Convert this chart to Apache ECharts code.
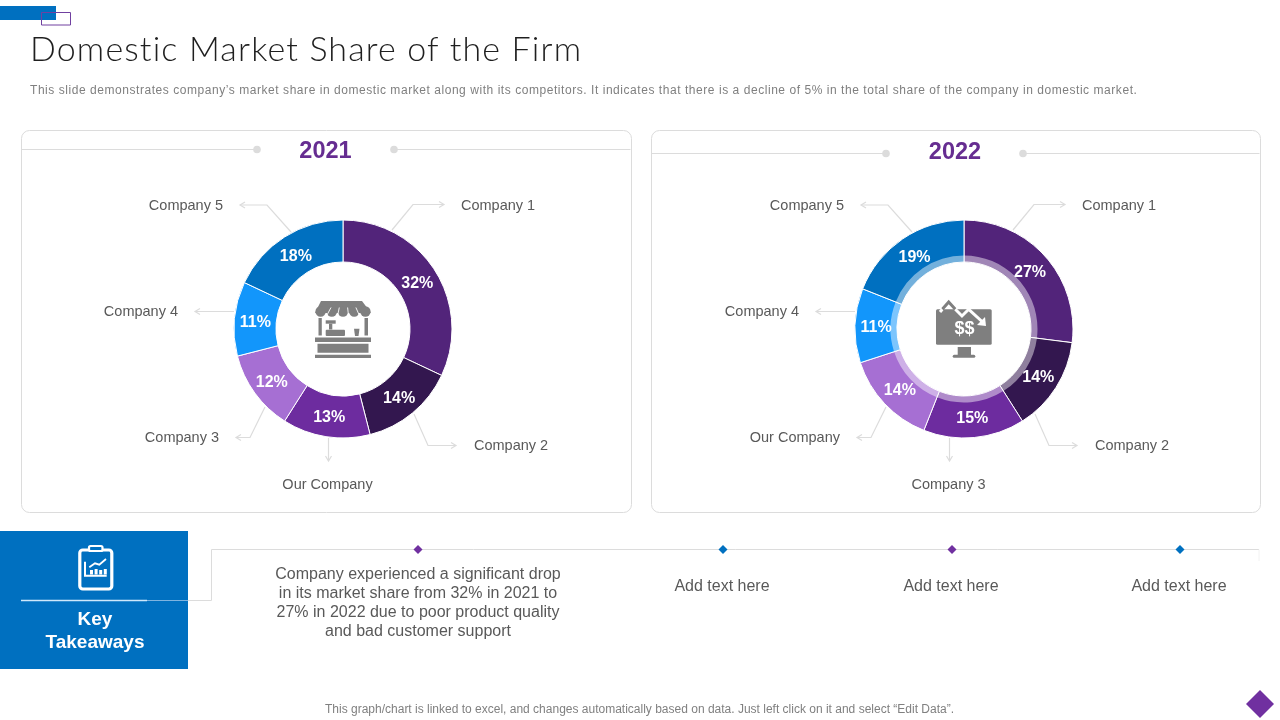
<!DOCTYPE html>
<html>
<head>
<meta charset="utf-8">
<title>Domestic Market Share of the Firm</title>
<style type="text/css">
	html, body{
		margin: 0;
		background: #fff;
		overflow: hidden;
	}
	#chart_box{
		position: absolute;
		left: 0;
		top: 0;
		width: 1280px;
		height: 720px;
	}
	.slide_title{
		position: absolute;
		left: 30px;
		top: 27px;
		font: 300 34px Lato, sans-serif;
		letter-spacing: 1.15px;
		color: #1f1f1f;
		white-space: nowrap;
	}
	.slide_sub{
		position: absolute;
		left: 30px;
		top: 83px;
		font: 12px "Liberation Sans", sans-serif;
		letter-spacing: .55px;
		color: #7f7f7f;
		white-space: nowrap;
	}
</style>
<script type="text/javascript" src="https://cdn.jsdelivr.net/npm/echarts@6/dist/echarts.min.js"></script>
</head>
<body>
<div id="chart_box"></div>
<div class="slide_title">Domestic Market Share of the Firm</div>
<div class="slide_sub">This slide demonstrates company’s market share in domestic market along with its competitors. It indicates that there is a decline of 5% in the total share of the company in domestic market.</div>

<script type="text/javascript">
var names_2021 = ['Company 1', 'Company 2', 'Our Company', 'Company 3', 'Company 4', 'Company 5'];
var values_2021 = [32, 14, 13, 12, 11, 18];
var names_2022 = ['Company 1', 'Company 2', 'Company 3', 'Our Company', 'Company 4', 'Company 5'];
var values_2022 = [27, 14, 15, 14, 11, 19];
var slice_colors = ['#52247a', '#33174f', '#6d2c9f', '#a66fd3', '#1296fb', '#0070c0'];

var takeaway_texts = [
	'Company experienced a significant drop\nin its market share from 32% in 2021 to\n27% in 2022 due to poor product quality\nand bad customer support',
	'Add text here',
	'Add text here',
	'Add text here'
];

var GREY_LINE = '#dcdcdc';
var FONT = '"Liberation Sans", Arial, sans-serif';
var CY = 329;
var R_INNER = 67;
var R_OUTER = 109;
var OFFSET_2022 = 621;

// where each slice's name sits, same slots in both donuts
var name_slots = [
	{x: 461, y: 206, align: 'left'},
	{x: 474, y: 446, align: 'left'},
	{x: 327.5, y: 485, align: 'center'},
	{x: 219, y: 438, align: 'right'},
	{x: 178, y: 312, align: 'right'},
	{x: 223, y: 206, align: 'right'}
];

var leader_lines = [
	[[392, 230], [413, 204.5], [444, 204.5]],
	[[414, 414], [428, 445.5], [456, 445.5]],
	[[328.5, 438], [328.5, 461]],
	[[265, 407], [250, 437.5], [236, 437.5]],
	[[234, 311.5], [195, 311.5]],
	[[291, 232], [267, 205], [240, 205]]
];

function toData(names, values) {
	return names.map(function(name, i) {
		return {name: name, value: values[i], itemStyle: {color: slice_colors[i]}};
	});
}

function donutSeries(names, values, cx, dx, withBand) {
	var total = values.reduce(function(a, b) { return a + b; }, 0);
	var list = [{
		type: 'pie',
		center: [cx, CY],
		radius: [R_INNER, R_OUTER],
		startAngle: 90,
		silent: true,
		avoidLabelOverlap: false,
		itemStyle: {borderColor: '#fff', borderWidth: 1},
		label: {
			position: 'inside',
			formatter: '{c}%',
			color: '#fff',
			fontFamily: FONT,
			fontWeight: 'bold',
			fontSize: 16
		},
		labelLine: {show: false},
		labelLayout: function(params) {
			// centre of the ring, on the slice's middle angle
			var before = values.slice(0, params.dataIndex).reduce(function(a, b) { return a + b; }, 0);
			var angle = (before + values[params.dataIndex] / 2) / total * Math.PI * 2;
			var r = (R_INNER + R_OUTER) / 2;
			return {
				x: cx + r * Math.sin(angle),
				y: CY - r * Math.cos(angle) + 1.5,
				align: 'center',
				verticalAlign: 'middle'
			};
		},
		data: toData(names, values)
	}, {
		// names only, the slices themselves stay invisible
		type: 'pie',
		center: [cx, CY],
		radius: [R_INNER, R_OUTER],
		startAngle: 90,
		silent: true,
		avoidLabelOverlap: false,
		itemStyle: {color: 'rgba(0,0,0,0)'},
		label: {
			position: 'outside',
			formatter: '{b}',
			color: '#595959',
			fontFamily: FONT,
			fontSize: 14.5
		},
		labelLine: {show: false},
		labelLayout: function(params) {
			var slot = name_slots[params.dataIndex];
			return {x: slot.x + dx, y: slot.y, align: slot.align, verticalAlign: 'middle'};
		},
		data: names.map(function(name, i) {
			return {name: name, value: values[i], itemStyle: {color: 'rgba(0,0,0,0)'}};
		})
	}];
	if (withBand) {
		list.push({
			type: 'pie',
			center: [cx, CY],
			radius: [R_INNER, 73.5],
			startAngle: 90,
			silent: true,
			z: 3,
			itemStyle: {borderWidth: 0},
			label: {show: false},
			labelLine: {show: false},
			data: names.map(function(name, i) {
				return {name: name, value: values[i], itemStyle: {color: 'rgba(255,255,255,.45)'}};
			})
		});
	}
	return list;
}

function line(points, color, width) {
	return {type: 'polyline', shape: {points: points}, style: {stroke: color, fill: null, lineWidth: width}};
}

function box(x1, y1, x2, y2, color, r) {
	return {type: 'rect', shape: {x: x1, y: y1, width: x2 - x1, height: y2 - y1, r: r || 0}, style: {fill: color}};
}

function diamond(cx, cy, size, color) {
	return {type: 'polygon', shape: {points: [[cx, cy - size], [cx + size, cy], [cx, cy + size], [cx - size, cy]]}, style: {fill: color}};
}

function text(str, x, y, size, color, weight, lineHeight) {
	return {
		type: 'text',
		x: x,
		y: y,
		style: {
			text: str,
			fill: color,
			font: (weight || 'normal') + ' ' + size + 'px ' + FONT,
			lineHeight: lineHeight,
			align: 'center',
			verticalAlign: 'middle'
		}
	};
}

function leader(points, dx) {
	var pts = points.map(function(p) { return [p[0] + dx, p[1]]; });
	var a = pts[pts.length - 2], b = pts[pts.length - 1];
	var len = Math.sqrt((b[0] - a[0]) * (b[0] - a[0]) + (b[1] - a[1]) * (b[1] - a[1]));
	var ux = (b[0] - a[0]) / len, uy = (b[1] - a[1]) / len;
	var head = [
		[b[0] - ux * 5 - uy * 3, b[1] - uy * 5 + ux * 3],
		b,
		[b[0] - ux * 5 + uy * 3, b[1] - uy * 5 - ux * 3]
	];
	return [line(pts, GREY_LINE, 1.2), line(head, GREY_LINE, 1.2)];
}

function panel(x1, x2, lineY, dot1, dot2, year, yearX, yearY) {
	return [
		{type: 'rect', shape: {x: x1, y: 130.5, width: x2 - x1, height: 382, r: 8}, style: {fill: '#fff', stroke: GREY_LINE, lineWidth: 1}},
		line([[x1, lineY], [dot1, lineY]], GREY_LINE, 1),
		line([[dot2, lineY], [x2 - 1, lineY]], GREY_LINE, 1),
		{type: 'circle', shape: {cx: dot1, cy: lineY, r: 3.8}, style: {fill: GREY_LINE}},
		{type: 'circle', shape: {cx: dot2, cy: lineY, r: 3.8}, style: {fill: GREY_LINE}},
		text(year, yearX, yearY, 23.5, '#662d91', 'bold')
	];
}

function stallIcon() {
	var c = '#7f7f7f';
	var els = [
		{type: 'polygon', shape: {points: [[321, 301], [362, 301], [371, 313], [315, 313]]}, style: {fill: c}},
		box(318.5, 318, 321.8, 335.5, c),
		box(364.5, 318, 368, 335.5, c),
		box(325.7, 320.3, 335.7, 323.7, c),
		box(329, 323.7, 332.3, 329.5, c),
		box(325.7, 329.7, 345, 336, c, 1),
		{type: 'polygon', shape: {points: [[354, 328.7], [359.5, 328.7], [358.5, 336], [355, 336]]}, style: {fill: c}},
		box(315, 337.5, 371, 342, c),
		box(317.5, 343.7, 368.5, 352.7, c),
		box(315, 354.7, 371, 358, c)
	];
	var i;
	for (i = 0; i < 5; i++) {
		els.push({type: 'circle', shape: {cx: 320.6 + i * 11.2, cy: 311.5, r: 5.2}, style: {fill: c}});
	}
	// white creases between the awning scallops
	for (i = 0; i < 4; i++) {
		els.push(line([[331 + i * 8.3, 307.5], [326.2 + i * 11.2, 316.5]], '#fff', .9));
	}
	return els;
}

function monitorIcon() {
	var c = '#7f7f7f';
	return [
		box(936, 309.3, 991.7, 344.7, c, 1.5),
		box(957.7, 347, 971, 355, c),
		box(952.7, 354.7, 975.3, 357.7, c, 1.5),
		line([[942.3, 309.3], [948.7, 302], [955.3, 309.3]], c, 3),
		line([[940, 312], [942.3, 309.3]], '#fff', 3),
		line([[955.3, 309.3], [962, 316], [968.7, 309.3], [982, 321.5]], '#fff', 3),
		{type: 'polygon', shape: {points: [[986, 326], [985, 317], [977, 325]]}, style: {fill: '#fff'}},
		text('$$', 964.5, 329, 18, '#fff', 'bold')
	];
}

function clipboardIcon() {
	var w = '#fff';
	var els = [
		{type: 'rect', shape: {x: 79.8, y: 550, width: 32, height: 39, r: 3}, style: {fill: null, stroke: w, lineWidth: 3.2}},
		{type: 'rect', shape: {x: 89, y: 546, width: 13.5, height: 5, r: 1.5}, style: {fill: '#0070c0', stroke: w, lineWidth: 2.2}},
		line([[85, 561.7], [85, 575.7], [106.7, 575.7]], w, 2),
		line([[89.3, 567.3], [95, 563.3], [99.3, 564.7], [106, 559]], w, 1.8)
	];
	[90, 94.6, 99.2, 103.8].forEach(function(x, i) {
		els.push(box(x, 570 - (i % 2), x + 3, 574.5, w));
	});
	return els;
}

function buildGraphic() {
	var els = [
		box(0, 6, 56, 20, '#0070c0'),
		{type: 'rect', shape: {x: 41.5, y: 12.5, width: 29, height: 12.5}, style: {fill: null, stroke: '#7040a0', lineWidth: 1}}
	];
	els = els.concat(panel(21.5, 631.5, 149.5, 257, 394, '2021', 325.5, 152));
	els = els.concat(panel(651.5, 1260.5, 153.5, 886, 1023, '2022', 955, 153));
	leader_lines.forEach(function(points) {
		els = els.concat(leader(points, 0), leader(points, OFFSET_2022));
	});
	els = els.concat(stallIcon(), monitorIcon());

	// key takeaways block and its connector
	els.push(line([[147, 600.5], [211.5, 600.5], [211.5, 549.5], [1259, 549.5]], GREY_LINE, 1));
	els.push(line([[1259, 549.5], [1259, 561]], '#f2f2f2', 1));
	els.push(box(0, 531, 188, 669, '#0070c0'));
	els.push(line([[21, 600.5], [147, 600.5]], '#cfe8fb', 1.5));
	els.push(line([[147, 600.5], [188, 600.5]], '#7fb4e0', 1));
	els = els.concat(clipboardIcon());
	els.push(text('Key', 95, 620, 19, '#fff', 'bold'));
	els.push(text('Takeaways', 95, 643, 19, '#fff', 'bold'));

	var marks = [[418, '#7030a0'], [723, '#0070c0'], [952, '#7030a0'], [1180, '#0070c0']];
	var textY = [603, 586.5, 586.5, 586.5];
	marks.forEach(function(m, i) {
		els.push(diamond(m[0], 549.5, 4.5, m[1]));
		els.push(text(takeaway_texts[i], i === 0 ? 418 : m[0] - 1, textY[i], 16, '#595959', 'normal', 19));
	});

	els.push(text('This graph/chart is linked to excel, and changes automatically based on data. Just left click on it and select “Edit Data”.', 639.5, 710, 12, '#808080'));
	els.push(diamond(1260, 704, 14, '#7030a0'));
	return els;
}

var myChart = echarts.init(document.getElementById('chart_box'));
myChart.setOption({
	animation: false,
	backgroundColor: '#fff',
	graphic: {elements: buildGraphic()},
	series: donutSeries(names_2021, values_2021, 343, 0, false)
		.concat(donutSeries(names_2022, values_2022, 343 + OFFSET_2022, OFFSET_2022, true))
});
</script>
</body>
</html>
